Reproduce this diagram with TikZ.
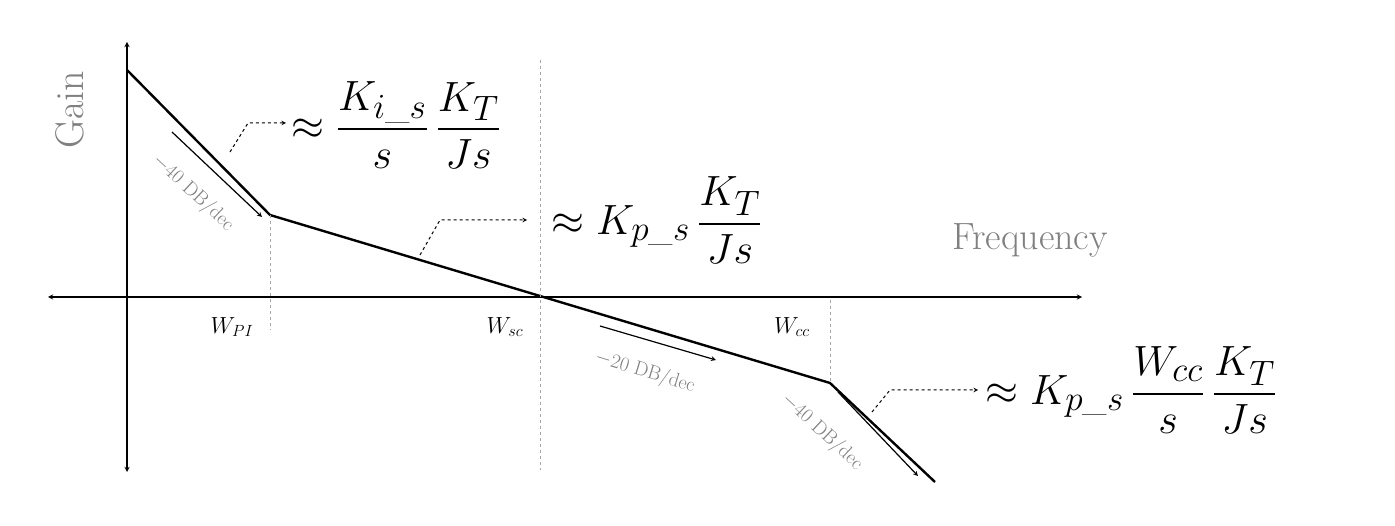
\documentclass[tikz,border=0pt]{standalone}
\usepackage{amsmath}
\usepackage{graphicx}
\newcommand{\bigeq}[1]{\scalebox{1.7}{\Huge$#1$}}
\newcommand{\wlab}[1]{\scalebox{1.35}{\LARGE$#1$}}
\begin{document}
\begin{tikzpicture}[x=1pt,y=-1pt,
 ax/.style={line width=1.3pt,<->,>=stealth},
 bode/.style={line width=2.4pt},
 vd/.style={dashed,gray!70,line width=0.7pt},
 pa/.style={line width=1.2pt,->,>=stealth},
 da/.style={dashed,line width=1pt,->,>=stealth},
 sl/.style={text=gray,font=\fontsize{20}{20}\selectfont},
 big/.style={},
 wl/.style={}]
\useasboundingbox (0,0) rectangle (1395,526);
\coordinate (yt) at (127,42); \coordinate (yb) at (127,472);
\coordinate (xl) at (48,297); \coordinate (xr) at (1082,297);
\draw[ax] (yt)--(yb); \draw[ax] (xl)--(xr);
\coordinate (p0) at (127,70); \coordinate (p1) at (270,215);
\coordinate (p2) at (830,383); \coordinate (p3) at (935,482);
\draw[bode] (p0)--(p1)--(p2)--(p3);
\draw[vd] (270,215)--(270,330);
\draw[vd] (540,60)--(540,470);
\draw[vd] (830,300)--(830,383);
\node[rotate=90,text=gray,font=\fontsize{40}{40}\selectfont] (g) at (70,110) {Gain};
\node[text=gray,font=\fontsize{38}{38}\selectfont] (f) at (1030,240) {Frequency};
\node[wl] (w1) at (232,327) {\wlab{W_{PI}}};
\node[wl] (w2) at (505,327) {\wlab{W_{sc}}};
\node[wl] (w3) at (792,327) {\wlab{W_{cc}}};
\coordinate (a1s) at (172,132); \coordinate (a1e) at (262,217);
\draw[pa] (a1s)--(a1e);
\node[sl,rotate=-43] (l1) at (193,193) {$-$40 DB/dec};
\coordinate (a2s) at (600,326); \coordinate (a2e) at (716,360);
\draw[pa] (a2s)--(a2e);
\node[sl,rotate=-17] (l2) at (645,372) {$-$20 DB/dec};
\coordinate (a3s) at (838,392); \coordinate (a3e) at (918,476);
\draw[pa] (a3s)--(a3e);
\node[sl,rotate=-43] (l3) at (822,432) {$-$40 DB/dec};
\coordinate (d1a) at (230,152); \coordinate (d1b) at (248,123); \coordinate (d1c) at (286,123);
\draw[da] (d1a)--(d1b)--(d1c);
\coordinate (d2a) at (420,255); \coordinate (d2b) at (440,220); \coordinate (d2c) at (527,220);
\draw[da] (d2a)--(d2b)--(d2c);
\coordinate (d3a) at (872,412); \coordinate (d3b) at (890,390); \coordinate (d3c) at (978,390);
\draw[da] (d3a)--(d3b)--(d3c);
\node[big,anchor=west] (e1) at (288,125) {\bigeq{\approx \dfrac{K_{i\_s}}{s}\,\dfrac{K_T}{Js}}};
\node[big,anchor=west] (e2) at (548,220) {\bigeq{\approx K_{p\_s}\,\dfrac{K_T}{Js}}};
\node[big,anchor=west] (e3) at (982,390) {\bigeq{\approx K_{p\_s}\,\dfrac{W_{cc}}{s}\,\dfrac{K_T}{Js}}};
\end{tikzpicture}
\end{document}
